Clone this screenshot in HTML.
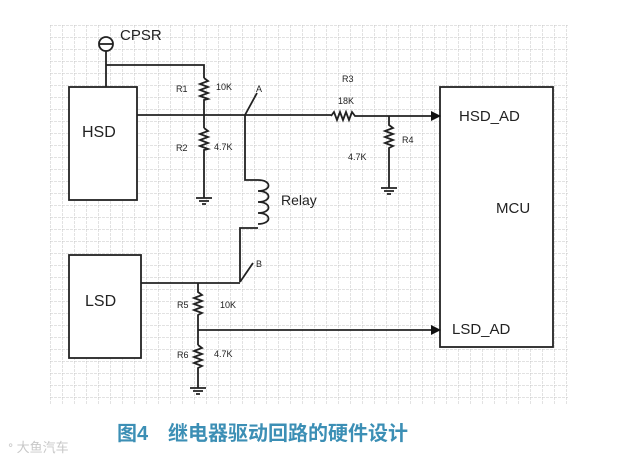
<!DOCTYPE html>
<html><head><meta charset="utf-8"><style>
html,body{margin:0;padding:0;background:#fff;}
</style></head><body>
<svg width="630" height="461" viewBox="0 0 630 461" xmlns="http://www.w3.org/2000/svg" font-family="Liberation Sans, sans-serif">
<defs>
<pattern id="g" x="50" y="25" width="12" height="12" patternUnits="userSpaceOnUse">
<path d="M0 0H12M0 0V12" stroke="#c4c4c4" stroke-width="1" fill="none" stroke-dasharray="3 1"/>
</pattern>
</defs>
<rect width="630" height="461" fill="#fff"/>
<rect x="50" y="25" width="518" height="380" fill="url(#g)"/>
<g stroke="#222" stroke-width="1.8" fill="none">
<rect x="69" y="87" width="68" height="113" fill="#fff"/>
<circle cx="106" cy="44" r="7" fill="#fff"/>
<line x1="99" y1="44" x2="113" y2="44"/>
<path d="M106 51V87M106 65H204V78"/>
<path d="M204 78l4 3-8 3 8 3-8 3 8 3-8 3 8 3-4 1V128"/>
<path d="M204 128l4 3-8 3 8 3-8 3 8 3-8 3 8 3-4 1V198"/>
<path d="M196 198h16M199 201h10M202 204h4"/>
<path d="M137 115H331"/>
<path d="M331 116l3-4 3 8 3-8 3 8 3-8 3 8 3-8 3 4H441"/>
<path d="M245 115l12-22"/>
<path d="M245 115V180H258"/>
<path d="M258 180c14 0 14 11 0 11c14 0 14 11 0 11c14 0 14 11 0 11c14 0 14 11 0 11"/>
<path d="M258 228H240V282"/>
<path d="M240 282l13-19"/>
<path d="M389 116V125l4 3-8 3 8 3-8 3 8 3-8 3 8 3-4 2V188"/>
<path d="M381 188h16M384 191h10M387 194h4"/>
<rect x="440" y="87" width="113" height="260" fill="#fff"/>
<rect x="69" y="255" width="72" height="103" fill="#fff"/>
<path d="M141 283H240"/>
<path d="M198 283V292l4 3-8 3 8 3-8 3 8 3-8 3 8 3-4 2V345"/>
<path d="M198 330H431"/>
<path d="M198 345l4 3-8 3 8 3-8 3 8 3-8 3 8 3-4 2V388"/>
<path d="M190 388h16M193 391h10M196 394h4"/>
</g>
<path d="M431 111l10 5-10 5z M431 325l10 5-10 5z" fill="#111"/>
<g fill="#222">
<text x="120" y="40" font-size="15">CPSR</text>
<text x="82" y="137" font-size="16">HSD</text>
<text x="85" y="306" font-size="16">LSD</text>
<text x="496" y="213" font-size="15">MCU</text>
<text x="459" y="121" font-size="15">HSD_AD</text>
<text x="452" y="334" font-size="15">LSD_AD</text>
<text x="281" y="205" font-size="14">Relay</text>
<g font-size="9">
<text x="176" y="92">R1</text><text x="216" y="90">10K</text>
<text x="176" y="151">R2</text><text x="214" y="150">4.7K</text>
<text x="256" y="92">A</text>
<text x="256" y="267">B</text>
<text x="342" y="82">R3</text><text x="338" y="104">18K</text>
<text x="402" y="143">R4</text><text x="348" y="160">4.7K</text>
<text x="177" y="308">R5</text><text x="220" y="308">10K</text>
<text x="177" y="358">R6</text><text x="214" y="357">4.7K</text>
</g>
</g>
<text x="117" y="440" font-size="20" font-weight="bold" fill="#3c8fb5" font-family="Liberation Sans, Noto Sans CJK SC, sans-serif">图4<tspan x="168">继电器驱动回路的硬件设计</tspan></text>
<text x="8" y="452" font-size="13" fill="#c8c8c8" font-family="Liberation Sans, Noto Sans CJK SC, sans-serif">ᐤ 大鱼汽车</text>
</svg>
</body></html>
